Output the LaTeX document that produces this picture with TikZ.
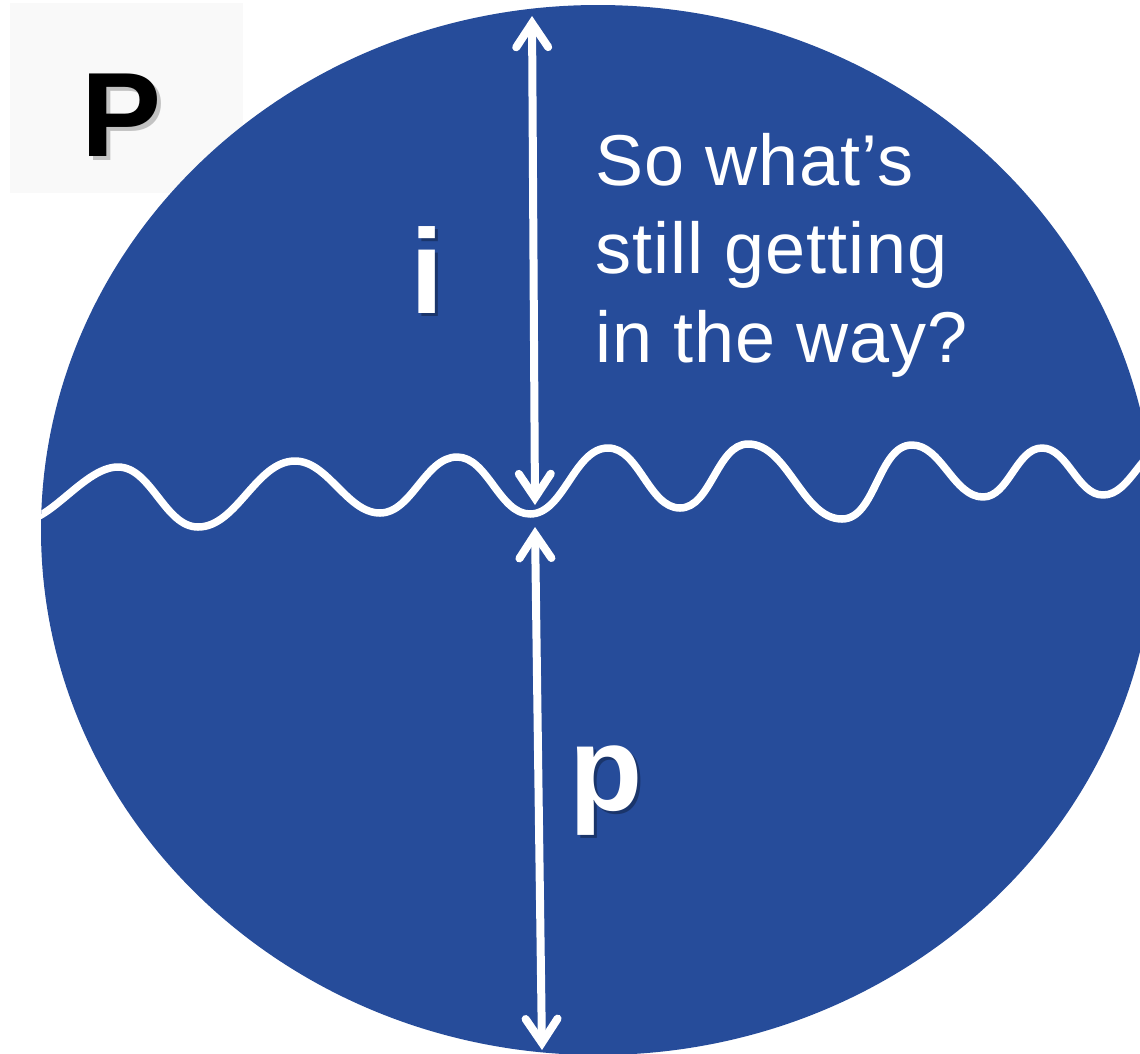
\documentclass[tikz,border=0pt]{standalone}
\usepackage{fontspec}
\setmainfont{Liberation Sans}
\usetikzlibrary{arrows.meta}
\definecolor{discblue}{RGB}{38,76,154}
\definecolor{boxgrey}{RGB}{249,249,249}
\tikzset{
  whiteline/.style={draw=white, line width=7.5pt, line cap=round, line join=round},
  dimarrow/.style={draw=white, line width=8pt, {Straight Barb[length=24pt,width=32pt,line cap=round]}-{Straight Barb[length=24pt,width=32pt,line cap=round]}},
  bigletter/.style={inner sep=0pt, anchor=base west, font=\fontsize{120}{120}\selectfont\bfseries},
  question/.style={inner sep=0pt, anchor=base west, text=white, font=\fontsize{72}{88}\selectfont\addfontfeature{LetterSpace=1.5}},
  shadowtxt/.style={bigletter, text=black, opacity=0.3}
}
\begin{document}
\begin{tikzpicture}[x=1pt,y=-1pt]
\useasboundingbox (0,0) rectangle (1140,1053);
\begin{scope}
\clip (0,0) rectangle (1140,1053);
% light box behind P
\fill[boxgrey] (10,3) rectangle (243,193);
% the disc
\fill[discblue] (598,530) ellipse [x radius=557, y radius=525];
% wave clipped to the disc
\begin{scope}
\clip (598,530) ellipse [x radius=557, y radius=525];
\draw[whiteline] (10,518) to[out=-30,in=180,looseness=0.8] (118,467)
  to[out=0,in=180,looseness=0.85] (198,527)
  to[out=0,in=180,looseness=0.85] (295,461)
  to[out=0,in=180,looseness=0.85] (380,513)
  to[out=0,in=180,looseness=0.85] (457,457)
  to[out=0,in=180,looseness=0.85] (530,514)
  to[out=0,in=180,looseness=0.85] (608,448)
  to[out=0,in=180,looseness=0.85] (680,508)
  to[out=0,in=180,looseness=0.85] (748,444)
  to[out=0,in=180,looseness=0.85] (842,519)
  to[out=0,in=180,looseness=0.85] (912,445)
  to[out=0,in=180,looseness=0.85] (983,497)
  to[out=0,in=180,looseness=0.85] (1042,448)
  to[out=0,in=180,looseness=0.85] (1103,495)
  to[out=0,in=180,looseness=0.85] (1170,445);
\end{scope}
\end{scope}
% arrows
\coordinate (upTop) at (532,16);
\coordinate (upBot) at (535,505);
\coordinate (lowTop) at (535,527);
\coordinate (lowBot) at (542,1050);
\draw[dimarrow] (upTop) -- (upBot);
\draw[dimarrow] (lowTop) -- (lowBot);
% letters with shadows
\node[shadowtxt, text=gray, opacity=0.45] (Pshadow) at (85,160) {P};
\node[bigletter, text=black] (Pletter) at (81,156) {P};
\node[shadowtxt] (ishadow) at (413,316) {i};
\node[bigletter, text=white] (iletter) at (410,313) {i};
\node[shadowtxt] (pshadow) at (572,813) {p};
\node[bigletter, text=white] (pletter) at (569,810) {p};
% question text
\node[question] (q1) at (595,185) {So what’s};
\node[question] (q2) at (595,273) {still getting};
\node[question] (q3) at (595,362) {in the way?};
\end{tikzpicture}
\end{document}
